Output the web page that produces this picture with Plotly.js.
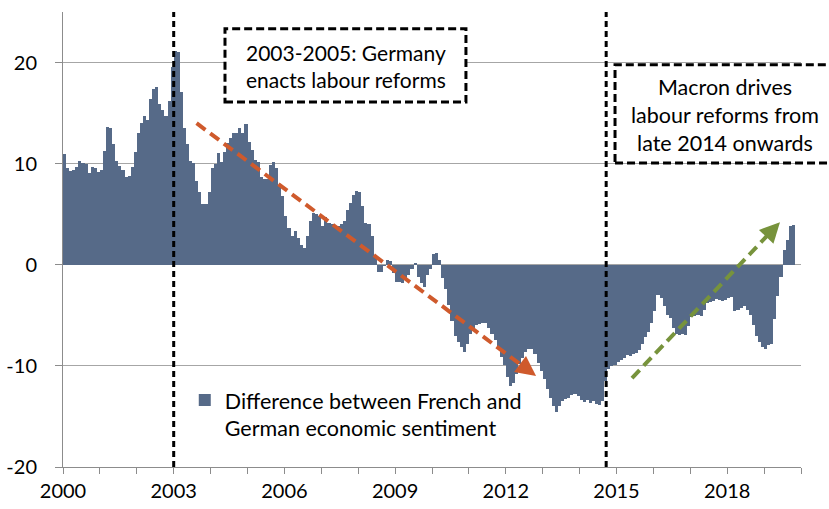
<!DOCTYPE html>
<html>
<head>
<meta charset="utf-8">
<script src="https://cdn.plot.ly/plotly-3.0.1.min.js"></script>
<style>html,body{margin:0;padding:0;background:#fff}#chart{width:829px;height:509px}</style>
</head>
<body>
<div id="chart"></div>
<script>
// Monthly data, Jan 2000 .. Oct 2019
const startYear = 2000;
const sentimentDiff = [
  11.0, 9.6, 9.3, 9.4, 9.7, 10.3, 10.1, 10.0, 9.1, 9.7,
  9.6, 9.2, 9.4, 11.3, 13.6, 13.5, 11.9, 10.3, 9.8, 9.4,
  8.7, 8.8, 9.7, 11.2, 13.0, 14.0, 14.7, 14.3, 16.4, 17.4,
  17.6, 15.9, 15.3, 14.7, 16.2, 19.6, 21.1, 21.0, 17.1, 13.5,
  11.9, 10.3, 10.1, 8.3, 7.2, 6.0, 6.0, 7.2, 9.6, 10.0,
  11.1, 10.2, 11.2, 12.0, 12.5, 13.0, 13.0, 13.5, 13.0, 13.9,
  12.1, 11.4, 10.4, 10.2, 8.7, 8.5, 8.5, 9.9, 10.2, 9.6,
  7.9, 6.8, 4.8, 3.6, 2.8, 3.3, 2.6, 2.0, 1.7, 2.8,
  4.3, 5.1, 5.0, 4.8, 3.8, 4.7, 4.1, 4.0, 3.8, 3.8,
  4.0, 4.3, 5.4, 6.1, 6.9, 7.3, 7.2, 5.8, 4.1, 4.0,
  2.8, 1.0, -0.7, -0.7, -0.1, 0.5, 0.4, -0.8, -1.7, -1.7,
  -1.8, -1.5, -1.0, -0.4, 0.2, -1.2, -1.8, -2.2, -1.0, -0.4,
  1.1, 1.2, 0.5, -1.3, -2.4, -4.0, -5.6, -7.0, -7.6, -8.1,
  -8.6, -7.8, -6.8, -6.3, -6.0, -5.9, -5.8, -5.8, -6.3, -6.8,
  -7.4, -8.3, -9.1, -9.9, -11.1, -12.0, -11.7, -10.8, -9.8, -9.2,
  -8.6, -8.3, -8.3, -8.8, -9.7, -10.5, -11.3, -12.3, -13.2, -14.0,
  -14.6, -14.0, -13.5, -13.3, -13.2, -12.9, -12.8, -13.0, -13.4, -13.6,
  -13.4, -13.7, -13.5, -13.8, -13.9, -13.5, -11.5, -10.3, -10.0, -9.9,
  -9.6, -9.4, -9.2, -8.9, -9.0, -8.8, -8.7, -8.4, -7.8, -7.1,
  -6.6, -5.8, -4.6, -3.0, -3.3, -4.1, -5.0, -5.3, -6.3, -6.8,
  -6.9, -6.8, -6.9, -6.1, -5.2, -5.1, -5.0, -5.1, -4.5, -3.8,
  -3.7, -3.6, -3.4, -3.5, -3.6, -3.5, -3.3, -3.2, -4.6, -4.5,
  -4.3, -4.1, -4.5, -5.0, -6.0, -7.0, -7.6, -8.1, -8.3, -7.9,
  -7.8, -5.4, -3.1, -1.2, 1.5, 2.5, 3.8, 3.9
];
const seriesName = "Difference between French and<br>German economic sentiment";
const xTickYears = [2000,2001,2002,2003,2004,2005,2006,2007,2008,2009,2010,2011,2012,2013,2014,2015,2016,2017,2018,2019,2020];
const xLabelYears = [2000,2003,2006,2009,2012,2015,2018];
const yTicks = [-20,-10,0,10,20];
const yTickLabels = ["-20","-10","0","10","20"];
const reformLines = [2003.0, 2014.72];
const germanyNote = "2003-2005: Germany<br>enacts labour reforms";
const macronNote = "Macron drives<br>labour reforms from<br>late 2014 onwards";
// arrows (start, tip) in data units
const orangeArrow = {x0: 2003.62, y0: 14.0, x1: 2012.82, y1: -11.0};
const greenArrow = {x0: 2015.42, y0: -11.2, x1: 2019.43, y1: 4.2};

const months = sentimentDiff.map((v, i) => startYear + (i + 0.5) / 12);
const FONT = "Lato, 'Open Sans', sans-serif";
const ORANGE = "#cf5a2c";
const GREEN = "#77933c";

function arrowShape(a, color, frac) {
  return {type: "line", xref: "x", yref: "y",
    x0: a.x0, y0: a.y0,
    x1: a.x0 + (a.x1 - a.x0) * frac, y1: a.y0 + (a.y1 - a.y0) * frac,
    line: {color: color, width: 4, dash: "11px,6px"}, layer: "above"};
}
function arrowHead(a, color) {
  const dxp = (a.x1 - a.x0) * 36.9, dyp = -(a.y1 - a.y0) * 10.1;
  const L = Math.hypot(dxp, dyp);
  return {x: a.x1, y: a.y1, xref: "x", yref: "y", ax: -dxp / L * 16, ay: -dyp / L * 16,
    axref: "pixel", ayref: "pixel", showarrow: true, arrowhead: 2, arrowsize: 1,
    arrowwidth: 4, arrowcolor: color, text: "", standoff: 0};
}

const trace = {
  type: "bar", x: months, y: sentimentDiff, width: 1 / 12,
  name: seriesName, marker: {color: "#566a88", line: {width: 0}},
  hoverinfo: "x+y"
};

const shapes = reformLines.map(x => ({
  type: "line", xref: "x", yref: "paper", x0: x, x1: x, y0: 0, y1: 1,
  line: {color: "#000", width: 3, dash: "6px,4px"}, layer: "above"
}));
shapes.push({type: "rect", xref: "paper", yref: "paper", x0: 0.2195, x1: 0.546, y0: 0.802, y1: 0.963,
  fillcolor: "#fff", line: {color: "#000", width: 3, dash: "8px,4px"}, layer: "above"});
shapes.push({type: "rect", xref: "paper", yref: "paper", x0: 0.748, x1: 1.06, y0: 0.668, y1: 0.884,
  fillcolor: "#fff", line: {color: "#000", width: 3, dash: "8px,4px"}, layer: "above"});
shapes.push(arrowShape(orangeArrow, ORANGE, 0.96));
shapes.push(arrowShape(greenArrow, GREEN, 0.93));

const layout = {
  width: 829, height: 509,
  margin: {l: 63, r: 28, t: 12, b: 42, pad: 0},
  paper_bgcolor: "#fff", plot_bgcolor: "#fff",
  bargap: 0,
  font: {family: FONT, size: 20, color: "#000"},
  xaxis: {
    type: "linear", range: [2000, 2020],
    tickvals: xTickYears,
    ticktext: xTickYears.map(y => xLabelYears.includes(y) ? String(y) : ""),
    ticks: "outside", ticklen: 6, tickcolor: "#8c8c8c", tickwidth: 1,
    showline: true, linecolor: "#8c8c8c", linewidth: 1,
    showgrid: false, zeroline: false,
    tickfont: {family: FONT, size: 20, color: "#000"}
  },
  yaxis: {
    range: [-20, 25], tickvals: yTicks, ticktext: yTickLabels,
    ticks: "outside", ticklen: 7, tickcolor: "#8c8c8c", tickwidth: 1,
    showline: true, linecolor: "#8c8c8c", linewidth: 1,
    showgrid: true, gridcolor: "#a6a6a6", gridwidth: 1,
    zeroline: false, ticklabelstandoff: 14,
    tickfont: {family: FONT, size: 20, color: "#000"}
  },
  showlegend: true,
  legend: {x: 0.165, y: 0.192, xanchor: "left", yanchor: "top", bgcolor: "rgba(0,0,0,0)",
    font: {family: FONT, size: 21.5, color: "#000"}, valign: "top", tracegroupgap: 0},
  shapes: shapes,
  annotations: [
    {xref: "paper", yref: "paper", x: 0.3828, y: 0.8824, text: germanyNote, showarrow: false,
      font: {family: FONT, size: 21, color: "#000"}, align: "center", xanchor: "center", yanchor: "middle"},
    {xref: "paper", yref: "paper", x: 0.897, y: 0.7736, text: macronNote, showarrow: false,
      font: {family: FONT, size: 21.5, color: "#000"}, align: "center", xanchor: "center", yanchor: "middle"},
    arrowHead(orangeArrow, ORANGE),
    arrowHead(greenArrow, GREEN)
  ]
};

Plotly.newPlot("chart", [trace], layout, {displayModeBar: false, staticPlot: true});
</script>
</body>
</html>
